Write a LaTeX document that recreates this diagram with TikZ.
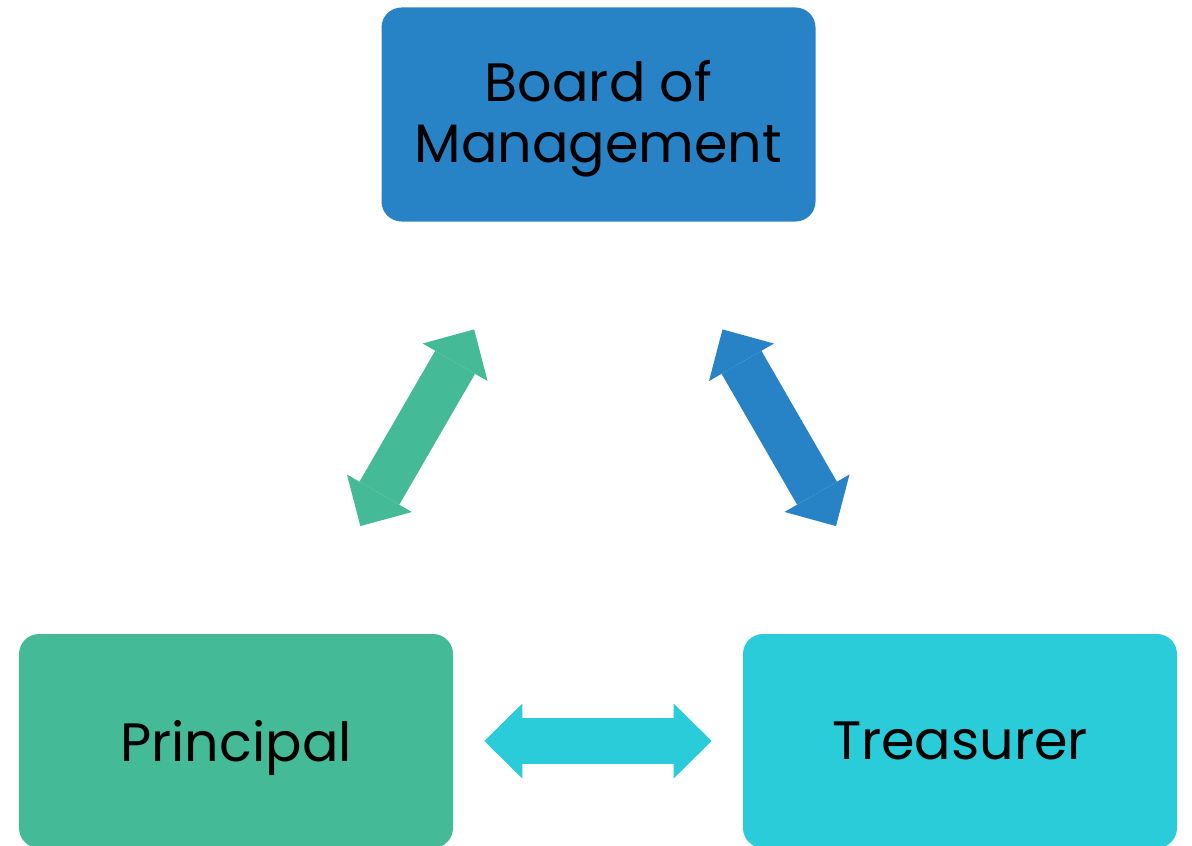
\documentclass[tikz,border=0pt]{standalone}
\usepackage{fontspec}
\setmainfont{Poppins}
\usetikzlibrary{arrows.meta, calc}
\definecolor{boardblue}{HTML}{2882C6}
\definecolor{leafgreen}{HTML}{44BA96}
\definecolor{aqua}{HTML}{29CCD8}
\begin{document}
\begin{tikzpicture}[x = 0.5pt, y = -0.5pt,
  role/.style = {rounded corners = 10pt, minimum width = 217pt, minimum height = 107pt,
    align = center, font = \fontsize{27}{30.5}\selectfont},
  link/.style = {line width = 23pt,
    {Triangle[length = 19pt, width = 37.5pt, line width = 0pt]}-{Triangle[length = 19pt, width = 37.5pt, line width = 0pt]}}]
\useasboundingbox (0, 0) rectangle (1192, 845);
\node (board) at (598.5, 114.5) [role, fill = boardblue, text height = 55pt] {Board of\\Management};
\node (principal) at (236, 741) [role, fill = leafgreen, text depth = 0pt] {Principal};
\node (treasurer) at (960, 741) [role, fill = aqua, text depth = 0pt] {Treasurer};
\draw[link, leafgreen] ($(principal)!0.343!(board)$) -- ($(principal)!0.657!(board)$);
\draw[link, boardblue] ($(board)!0.343!(treasurer)$) -- ($(board)!0.657!(treasurer)$);
\draw[link, aqua] ($(principal)!0.343!(treasurer)$) -- ($(principal)!0.657!(treasurer)$);
\end{tikzpicture}
\end{document}
